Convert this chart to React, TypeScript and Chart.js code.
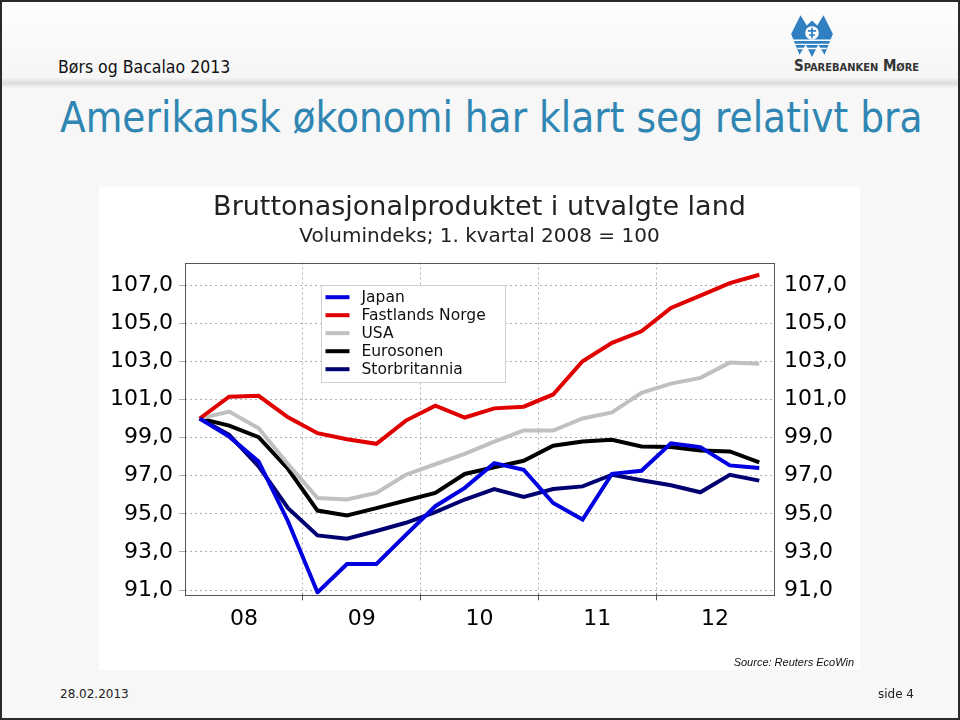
import React, { useEffect, useRef } from "react";
import { Chart, registerables } from "chart.js";

Chart.register(...registerables);

// ---- data ----
const quarters = [
  "2008K1", "2008K2", "2008K3", "2008K4",
  "2009K1", "2009K2", "2009K3", "2009K4",
  "2010K1", "2010K2", "2010K3", "2010K4",
  "2011K1", "2011K2", "2011K3", "2011K4",
  "2012K1", "2012K2", "2012K3", "2012K4",
];
const yearLabels = ["08", "09", "10", "11", "12"];
const yTickValues = [91, 93, 95, 97, 99, 101, 103, 105, 107];

const japan = [100.0, 99.05, 97.75, 94.6, 90.88, 92.37, 92.37, 93.9, 95.4, 96.36, 97.66, 97.31, 95.57, 94.7, 97.1, 97.26, 98.7, 98.5, 97.54, 97.4];
const fastlandsNorge = [100.0, 101.14, 101.19, 100.06, 99.23, 98.91, 98.67, 99.89, 100.67, 100.05, 100.53, 100.62, 101.26, 103.0, 103.97, 104.57, 105.8, 106.44, 107.1, 107.54];
const usa = [100.0, 100.36, 99.49, 97.6, 95.83, 95.75, 96.1, 97.05, 97.6, 98.14, 98.79, 99.37, 99.37, 100.0, 100.32, 101.35, 101.83, 102.13, 102.93, 102.87];
const eurosonen = [100.0, 99.63, 99.02, 97.35, 95.17, 94.91, 95.3, 95.7, 96.1, 97.09, 97.44, 97.78, 98.57, 98.79, 98.88, 98.53, 98.5, 98.32, 98.27, 97.7];
const storbritannia = [100.0, 99.14, 97.49, 95.3, 93.87, 93.7, 94.1, 94.53, 95.09, 95.75, 96.3, 95.89, 96.3, 96.44, 97.05, 96.76, 96.5, 96.13, 97.05, 96.74];

const seriesNames = ["Japan", "Fastlands Norge", "USA", "Eurosonen", "Storbritannia"];
const seriesColors = ["#0000e0", "#e00000", "#c0c0c0", "#000000", "#000070"];
const seriesValues = [japan, fastlandsNorge, usa, eurosonen, storbritannia];

const Y_MIN = 90.78;
const Y_MAX = 108.18;

const SANS = '"DejaVu Sans", Verdana, sans-serif';
const COND = '"DejaVu Sans Condensed", "DejaVu Sans", sans-serif';

const fmt = (v: number) => v.toFixed(1).replace(".", ",");

const framePlugin = {
  id: "frameAndLegend",
  afterDatasetsDraw(chart: any) {
    const { ctx, chartArea: ca } = chart;
    ctx.save();
    // plot frame
    ctx.strokeStyle = "#555";
    ctx.lineWidth = 1;
    ctx.strokeRect(Math.round(ca.left) + 0.5, Math.round(ca.top) + 0.5, Math.round(ca.right - ca.left), Math.round(ca.bottom - ca.top));
    // legend
    const lx = Math.round(ca.left + 135.6) + 0.5;
    const ly = Math.round(ca.top + 22.6) + 0.5;
    const w = 184;
    const h = 97;
    ctx.fillStyle = "#ffffff";
    ctx.fillRect(lx, ly, w, h);
    ctx.strokeStyle = "#cfcfcf";
    ctx.strokeRect(lx, ly, w, h);
    ctx.font = `15.5px ${SANS}`;
    ctx.textBaseline = "middle";
    ctx.textAlign = "left";
    chart.data.datasets.forEach((ds: any, i: number) => {
      const y = ly + 11.7 + 18 * i;
      ctx.strokeStyle = ds.borderColor;
      ctx.lineWidth = 4;
      ctx.beginPath();
      ctx.moveTo(lx + 4, y);
      ctx.lineTo(lx + 28, y);
      ctx.stroke();
      ctx.fillStyle = "#111";
      ctx.fillText(ds.label, lx + 40, y + 0.5);
    });
    ctx.restore();
  },
};

function GdpChart() {
  const ref = useRef<HTMLCanvasElement | null>(null);
  useEffect(() => {
    if (!ref.current) return;
    const isBoundary = (v: number) => v % 4 === 0 && v > 0 && v < quarters.length;
    const chart = new Chart(ref.current, {
      type: "line",
      data: {
        datasets: seriesNames.map((name, si) => ({
          label: name,
          data: seriesValues[si].map((v, i) => ({ x: i + 0.5, y: v })),
          borderColor: seriesColors[si],
          backgroundColor: seriesColors[si],
          borderWidth: 4,
          pointRadius: 0,
          tension: 0,
          fill: false,
        })),
      },
      options: {
        animation: false,
        responsive: false,
        maintainAspectRatio: false,
        layout: { padding: { top: 0, bottom: 32.3, left: 0, right: 0 } },
        plugins: {
          legend: { display: false },
          tooltip: { enabled: false },
          title: {
            display: true,
            text: "Bruttonasjonalproduktet i utvalgte land",
            color: "#222",
            font: { family: SANS, size: 27, weight: "normal" },
            padding: { top: 4.8, bottom: 0 },
          },
          subtitle: {
            display: true,
            text: "Volumindeks; 1. kvartal 2008 = 100",
            color: "#222",
            font: { family: SANS, size: 20, weight: "normal" },
            padding: { top: 0.8, bottom: 13.5 },
          },
        },
        scales: {
          x: {
            type: "linear",
            min: 0,
            max: quarters.length,
            afterBuildTicks: (scale: any) => {
              const t = [];
              for (let v = 0; v <= quarters.length; v += 2) t.push({ value: v });
              scale.ticks = t;
            },
            ticks: {
              autoSkip: false,
              maxRotation: 0,
              padding: 5.5,
              color: "#000",
              font: { family: SANS, size: 22 },
              callback: (v: any) => {
                const n = Number(v);
                return n % 4 === 2 ? yearLabels[(n - 2) / 4] : "";
              },
            },
            grid: {
              drawOnChartArea: true,
              tickLength: 6,
              lineWidth: 1,
              tickBorderDash: [1, 0],
              color: (c: any) => (isBoundary(c.tick?.value) ? "#b0b0b0" : "rgba(0,0,0,0)"),
              tickColor: (c: any) => (isBoundary(c.tick?.value) ? "#555" : "rgba(0,0,0,0)"),
            },
            border: { display: false, dash: [2, 3] },
          },
          y: {
            type: "linear",
            position: "left",
            min: Y_MIN,
            max: Y_MAX,
            afterBuildTicks: (scale: any) => {
              scale.ticks = yTickValues.map((v) => ({ value: v }));
            },
            afterFit: (scale: any) => {
              scale.width = 86;
            },
            ticks: {
              padding: 6,
              color: "#000",
              font: { family: SANS, size: 22 },
              callback: (v: any) => fmt(Number(v)),
            },
            grid: {
              color: "#b0b0b0",
              tickLength: 6,
              lineWidth: 1,
            },
            border: { display: false, dash: [2, 3] },
          },
          y2: {
            type: "linear",
            position: "right",
            min: Y_MIN,
            max: Y_MAX,
            afterBuildTicks: (scale: any) => {
              scale.ticks = yTickValues.map((v) => ({ value: v }));
            },
            afterFit: (scale: any) => {
              scale.width = 86;
            },
            ticks: {
              padding: 10,
              color: "#000",
              font: { family: SANS, size: 22 },
              callback: (v: any) => fmt(Number(v)),
            },
            grid: { drawOnChartArea: false, drawTicks: false },
            border: { display: false },
          },
        },
      } as any,
      plugins: [framePlugin],
    });
    return () => chart.destroy();
  }, []);
  return <canvas ref={ref} width={761} height={483} style={{ display: "block", width: 761, height: 483 }} />;
}

function Logo() {
  return (
    <svg width="46" height="48" viewBox="0 0 44 46" style={{ position: "absolute", left: 787, top: 9 }}>
      <path d="M2 22 L11 4 L17 14 L22 9 L27 14 L33 4 L42 22 L34 42 L28 32 L22 44 L16 32 L10 42 Z" fill="#2f7fc1" />
      <circle cx="22" cy="21" r="6.5" fill="#ffffff" />
      <path d="M22 16 L22 26 M18 19 L26 19 M19 23 L25 23" stroke="#2f7fc1" strokeWidth="1.6" />
      <path d="M4 28 L40 28 M6 32 L38 32 M8 36 L36 36" stroke="#ffffff" strokeWidth="1.4" />
    </svg>
  );
}

export default function App() {
  useEffect(() => {
    document.body.style.margin = "0";
  }, []);
  return (
    <div
      style={{
        position: "fixed",
        left: 0,
        top: 0,
        width: 960,
        height: 720,
        boxSizing: "border-box",
        border: "2px solid #2a2a2a",
        background: "#f7f7f7",
        overflow: "hidden",
        fontFamily: SANS,
      }}
    >
      <div
        style={{
          position: "absolute",
          left: 0,
          top: 0,
          width: 960,
          height: 86,
          background: "linear-gradient(#fdfdfd 0%, #f6f6f6 88%, #dcdcdc 94%, #f4f4f4 100%)",
        }}
      />
      <div style={{ position: "absolute", left: 56, top: 55, fontFamily: COND, fontSize: 17.5, lineHeight: "20px", color: "#111", whiteSpace: "nowrap" }}>
        Børs og Bacalao 2013
      </div>
      <Logo />
      <div
        style={{
          position: "absolute",
          left: 792,
          top: 55,
          fontFamily: COND,
          fontWeight: "bold",
          fontVariant: "small-caps",
          fontSize: 15,
          lineHeight: "18px",
          color: "#333",
          whiteSpace: "nowrap",
        }}
      >
        Sparebanken Møre
      </div>
      <div
        style={{
          position: "absolute",
          left: 58,
          top: 92,
          fontFamily: COND,
          fontSize: 41.8,
          lineHeight: "48px",
          color: "#2f86b2",
          whiteSpace: "nowrap",
        }}
      >
        Amerikansk økonomi har klart seg relativt bra
      </div>
      <div style={{ position: "absolute", left: 97, top: 185, width: 761, height: 483, background: "#ffffff" }}>
        <GdpChart />
      </div>
      <div
        style={{
          position: "absolute",
          left: 600,
          width: 252,
          top: 653,
          textAlign: "right",
          fontFamily: '"Liberation Sans", Arial, sans-serif',
          fontStyle: "italic",
          fontSize: 11,
          lineHeight: "14px",
          color: "#111",
        }}
      >
        Source: Reuters EcoWin
      </div>
      <div style={{ position: "absolute", left: 58, top: 684, fontFamily: SANS, fontSize: 12, lineHeight: "16px", color: "#222" }}>
        28.02.2013
      </div>
      <div style={{ position: "absolute", left: 800, width: 112, top: 684, textAlign: "right", fontFamily: SANS, fontSize: 12, lineHeight: "16px", color: "#222" }}>
        side 4
      </div>
    </div>
  );
}
